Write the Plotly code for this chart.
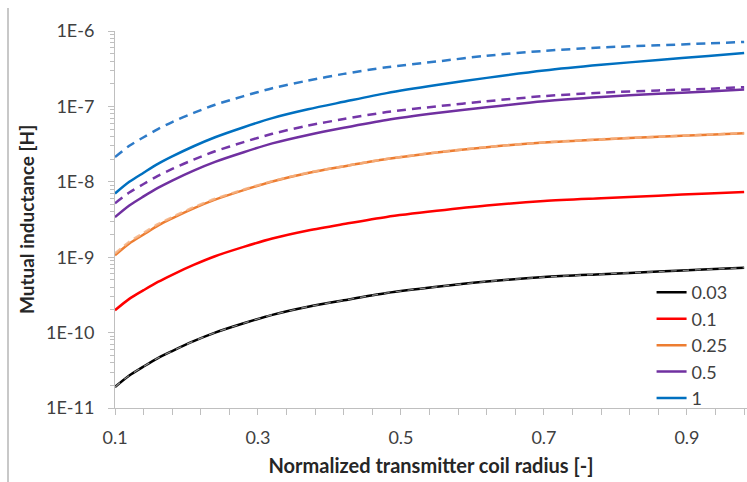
import plotly.graph_objects as go

# Normalized transmitter coil radius
x = [0.10, 0.12, 0.14, 0.16, 0.18, 0.21, 0.24, 0.28, 0.32, 0.37,
     0.42, 0.48, 0.55, 0.62, 0.70, 0.78, 0.86, 0.93, 0.98]

series_names = ["0.03", "0.1", "0.25", "0.5", "1"]

# Solid curves (mutual inductance, H)
m_003 = [1.9e-11, 2.7e-11, 3.55e-11, 4.6e-11, 5.7e-11, 7.7e-11, 1.0e-10, 1.33e-10, 1.72e-10, 2.2e-10,
         2.68e-10, 3.35e-10, 4.05e-10, 4.75e-10, 5.45e-10, 5.95e-10, 6.45e-10, 6.9e-10, 7.25e-10]
m_01 = [1.98e-10, 2.8e-10, 3.65e-10, 4.7e-10, 5.85e-10, 7.9e-10, 1.03e-9, 1.37e-9, 1.77e-9, 2.26e-9,
        2.75e-9, 3.42e-9, 4.12e-9, 4.85e-9, 5.55e-9, 6.05e-9, 6.55e-9, 7.0e-9, 7.3e-9]
m_025 = [1.06e-9, 1.52e-9, 2.0e-9, 2.63e-9, 3.28e-9, 4.45e-9, 5.8e-9, 7.75e-9, 1.01e-8, 1.31e-8,
         1.6e-8, 2.0e-8, 2.45e-8, 2.88e-8, 3.32e-8, 3.65e-8, 3.95e-8, 4.22e-8, 4.42e-8]
m_05 = [3.4e-9, 4.85e-9, 6.4e-9, 8.3e-9, 1.04e-8, 1.41e-8, 1.84e-8, 2.47e-8, 3.23e-8, 4.18e-8,
        5.2e-8, 6.6e-8, 8.15e-8, 9.75e-8, 1.17e-7, 1.33e-7, 1.47e-7, 1.58e-7, 1.68e-7]
m_1 = [7.0e-9, 1.0e-8, 1.32e-8, 1.73e-8, 2.17e-8, 2.96e-8, 3.9e-8, 5.3e-8, 7.0e-8, 9.15e-8,
       1.15e-7, 1.5e-7, 1.92e-7, 2.39e-7, 2.99e-7, 3.56e-7, 4.13e-7, 4.66e-7, 5.1e-7]

# Dashed curves
d_003 = m_003
d_025 = [1.12e-9, 1.6e-9, 2.1e-9, 2.74e-9, 3.4e-9, 4.6e-9, 5.95e-9, 7.9e-9, 1.02e-8, 1.32e-8,
         1.61e-8, 2.01e-8, 2.46e-8, 2.89e-8, 3.33e-8, 3.66e-8, 3.96e-8, 4.23e-8, 4.43e-8]
d_05 = [5.2e-9, 7.2e-9, 9.35e-9, 1.2e-8, 1.48e-8, 1.97e-8, 2.54e-8, 3.36e-8, 4.33e-8, 5.56e-8,
        6.8e-8, 8.4e-8, 1.0e-7, 1.17e-7, 1.37e-7, 1.52e-7, 1.63e-7, 1.71e-7, 1.8e-7]
d_1 = [2.13e-8, 3.0e-8, 3.9e-8, 5.0e-8, 6.2e-8, 8.2e-8, 1.05e-7, 1.37e-7, 1.74e-7, 2.2e-7,
       2.7e-7, 3.3e-7, 3.94e-7, 4.7e-7, 5.45e-7, 6.05e-7, 6.45e-7, 6.85e-7, 7.15e-7]

x_tickvals = [0.1, 0.3, 0.5, 0.7, 0.9]
x_ticktext = ["0.1", "0.3", "0.5", "0.7", "0.9"]
x_minor = [round(0.1 + 0.04 * i, 2) for i in range(23)]

y_tickvals = [1e-11, 1e-10, 1e-9, 1e-8, 1e-7, 1e-6]
y_ticktext = ["1E-11", "1E-10", "1E-9", "1E-8", "1E-7", "1E-6"]
y_minor = [m * 10.0 ** e for e in range(-11, -6) for m in range(2, 10)]

solid_colors = ["#000000", "#FF0000", "#ED7D31", "#7030A0", "#0070C0"]

fig = go.Figure()

for ys, c in [(d_1, "#2E7BC8"), (d_05, "#7436A8")]:
    fig.add_trace(go.Scatter(x=x, y=ys, mode="lines", showlegend=False,
                             line=dict(color=c, width=2.5, dash="9px,6px", shape="spline", smoothing=0.8)))

for name, ys, c in zip(series_names, [m_003, m_01, m_025, m_05, m_1], solid_colors):
    fig.add_trace(go.Scatter(x=x, y=ys, mode="lines", name=name,
                             line=dict(color=c, width=2.5, shape="spline", smoothing=0.8)))

fig.add_trace(go.Scatter(x=x, y=d_025, mode="lines", showlegend=False,
                         line=dict(color="rgba(244,177,131,0.85)", width=2.5, dash="7px,5px",
                                   shape="spline", smoothing=0.8)))
fig.add_trace(go.Scatter(x=x, y=d_003, mode="lines", showlegend=False,
                         line=dict(color="#8c8c8c", width=1.2, dash="6px,6px", shape="spline", smoothing=0.8)))

fig.update_layout(
    width=747, height=482,
    margin=dict(l=115, r=0, t=31, b=74),
    paper_bgcolor="white", plot_bgcolor="white",
    font=dict(family="Lato, Open Sans, sans-serif", size=18, color="#404040"),
    showlegend=True,
    legend=dict(x=0.849, y=0.355, xanchor="left", yanchor="top",
                bgcolor="rgba(0,0,0,0)", font=dict(size=18, color="#404040"),
                itemwidth=30, tracegroupgap=0),
    xaxis=dict(range=[0.1, 0.984], showgrid=False, zeroline=False,
               showline=True, linecolor="#bfbfbf", linewidth=1,
               tickmode="array", tickvals=x_tickvals, ticktext=x_ticktext,
               ticks="outside", ticklen=6, tickcolor="#bfbfbf", ticklabelstandoff=7,
               minor=dict(tickmode="array", tickvals=x_minor, ticks="outside", ticklen=6, tickcolor="#bfbfbf"),
               title=dict(text="<b>Normalized transmitter coil radius [-]</b>",
                          font=dict(size=20, color="#262626"), standoff=12)),
    yaxis=dict(type="log", range=[-11, -6], showgrid=False, zeroline=False,
               showline=True, linecolor="#bfbfbf", linewidth=1,
               tickmode="array", tickvals=y_tickvals, ticktext=y_ticktext,
               ticks="outside", ticklen=6, tickcolor="#bfbfbf", ticklabelstandoff=10,
               minor=dict(tickmode="array", tickvals=y_minor, ticks="outside", ticklen=4, tickcolor="#bfbfbf"),
               title=dict(text="<b>Mutual inductance [H]</b>",
                          font=dict(size=19, color="#262626"), standoff=6)),
    shapes=[dict(type="line", xref="paper", yref="paper",
                 x0=(8 - 115) / 632, x1=(8 - 115) / 632,
                 y0=(408 - 8) / 377, y1=(408 - 482) / 377,
                 line=dict(color="#c8c8c8", width=2))],
)

fig.write_html("out.html")
